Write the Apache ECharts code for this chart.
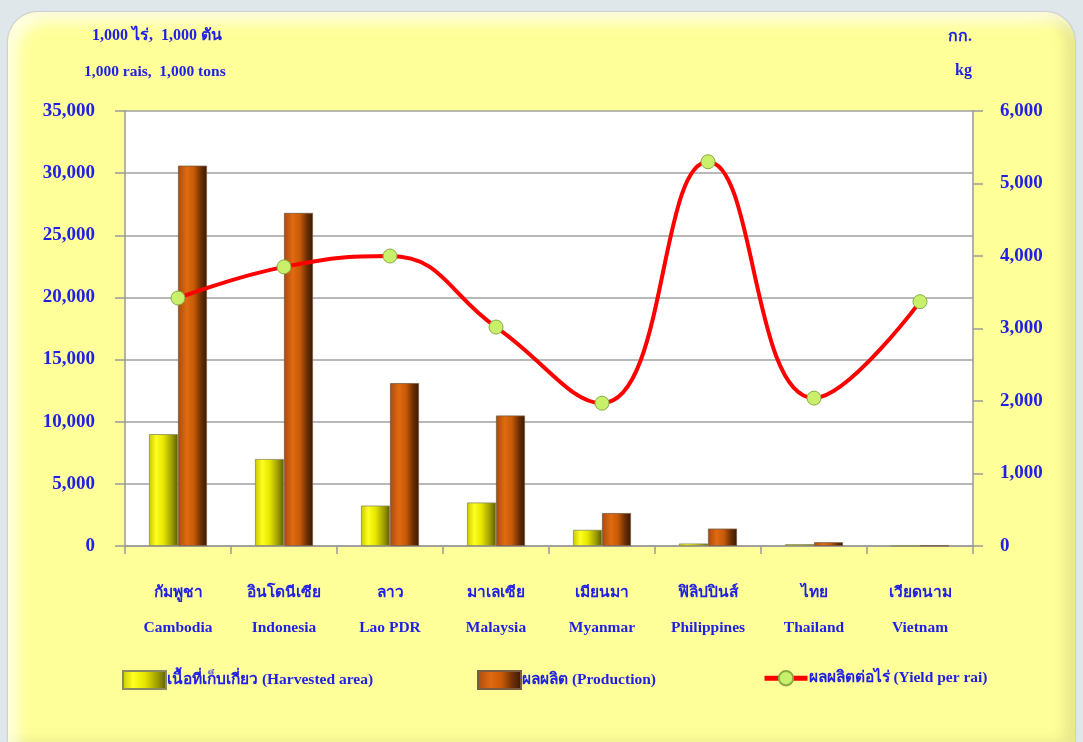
<!DOCTYPE html>
<html>
<head>
<meta charset="utf-8">
<script src="https://cdn.jsdelivr.net/npm/echarts@6/dist/echarts.min.js"></script>
<style>
html, body { margin: 0; padding: 0; background: #dfe7eb; }
.panel {
  position: absolute; left: 8px; top: 12px; width: 1067px; height: 730px;
  border-radius: 30px 30px 0 0;
  background: #ffff99;
  box-shadow: inset 10px 10px 14px rgba(255,255,255,0.7), inset -10px 0 14px rgba(200,200,120,0.45), 0 0 2px #999;
}
#main { position: absolute; left: 0; top: 0; width: 1083px; height: 742px; }
</style>
</head>
<body>
<div class="panel"></div>
<div id="main"></div>
<script>
const thaiNames = ['กัมพูชา', 'อินโดนีเซีย', 'ลาว', 'มาเลเซีย', 'เมียนมา', 'ฟิลิปปินส์', 'ไทย', 'เวียดนาม']
const engNames = ['Cambodia', 'Indonesia', 'Lao PDR', 'Malaysia', 'Myanmar', 'Philippines', 'Thailand', 'Vietnam']
const harvestedArea = [9000, 7000, 3250, 3500, 1300, 200, 150, 0]
const production = [30600, 26800, 13100, 10500, 2650, 1400, 300, 30]
const yieldPerRai = [3420, 3850, 4000, 3020, 1970, 5300, 2040, 3370]

const blue = '#1f1fe6'
const font = '"Liberation Serif", "Times New Roman", "DejaVu Serif", "Noto Sans", serif'

const yellowFill = new echarts.graphic.LinearGradient(0, 0, 1, 0, [
  { offset: 0, color: '#c8c800' },
  { offset: 0.25, color: '#ffff20' },
  { offset: 0.5, color: '#e6e600' },
  { offset: 0.8, color: '#9a9a00' },
  { offset: 1, color: '#5a5a00' }
])
const orangeFill = new echarts.graphic.LinearGradient(0, 0, 1, 0, [
  { offset: 0, color: '#a84a10' },
  { offset: 0.3, color: '#e06a10' },
  { offset: 0.55, color: '#c85a08' },
  { offset: 0.8, color: '#6a2e04' },
  { offset: 1, color: '#3a1800' }
])

const categories = thaiNames.map((t, i) => t + '\n' + engNames[i])

const legendText = { color: blue, fontWeight: 'bold', fontSize: 15.5, fontFamily: font, padding: [0, 0, 0, -4] }

var chartDom = document.getElementById('main')
var myChart = echarts.init(chartDom)
var option = {
  backgroundColor: 'transparent',
  textStyle: { fontFamily: font },
  graphic: [
    { type: 'text', left: 92, top: 28, style: { text: '1,000 ไร่,  1,000 ตัน', font: 'bold 16px ' + font, fill: blue } },
    { type: 'text', left: 84, top: 64, style: { text: '1,000 rais,  1,000 tons', font: 'bold 15.5px ' + font, fill: blue } },
    { type: 'text', right: 111, top: 29, style: { text: 'กก.', font: 'bold 16px ' + font, fill: blue, align: 'right' } },
    { type: 'text', right: 111, top: 63, style: { text: 'kg', font: 'bold 16px ' + font, fill: blue, align: 'right' } }
  ],
  grid: {
    left: 125, right: 110, top: 111, bottom: 196,
    show: true, backgroundColor: '#ffffff', borderWidth: 0
  },
  legend: [
    {
      data: [{ name: 'เนื้อที่เก็บเกี่ยว (Harvested area)', icon: 'rect' }], left: 117, top: 665,
      itemWidth: 43, itemHeight: 18, textStyle: legendText
    },
    {
      data: [{ name: 'ผลผลิต (Production)', icon: 'rect' }], left: 472, top: 665,
      itemWidth: 43, itemHeight: 18, textStyle: legendText
    },
    {
      data: ['ผลผลิตต่อไร่ (Yield per rai)'], left: 757, top: 665,
      itemWidth: 43, itemHeight: 18, textStyle: legendText,
      lineStyle: { width: 5 }
    }
  ],
  xAxis: {
    type: 'category',
    data: categories,
    axisLine: { lineStyle: { color: '#999999', width: 1.5 } },
    axisTick: { show: true, length: 8, lineStyle: { color: '#999999', width: 1.5 } },
    axisLabel: {
      margin: 29,
      color: blue,
      fontWeight: 'bold',
      fontSize: 15.5,
      lineHeight: 35,
      fontFamily: font,
      interval: 0
    }
  },
  yAxis: [
    {
      type: 'value', min: 0, max: 35000, interval: 5000,
      axisLine: { show: true, lineStyle: { color: '#999999', width: 1.5 } },
      axisTick: { show: true, length: 10, lineStyle: { color: '#999999', width: 1.5 } },
      splitLine: { lineStyle: { color: '#a0a0a0', width: 1.5 } },
      axisLabel: {
        margin: 30, color: blue, fontWeight: 'bold', fontSize: 19, fontFamily: font,
        formatter: v => v.toLocaleString('en-US')
      }
    },
    {
      type: 'value', min: 0, max: 6000, interval: 1000,
      axisLine: { show: true, lineStyle: { color: '#999999', width: 1.5 } },
      axisTick: { show: true, length: 10, lineStyle: { color: '#999999', width: 1.5 } },
      splitLine: { show: false },
      axisLabel: {
        margin: 27, color: blue, fontWeight: 'bold', fontSize: 19, fontFamily: font,
        formatter: v => v.toLocaleString('en-US')
      }
    }
  ],
  series: [
    {
      name: 'เนื้อที่เก็บเกี่ยว (Harvested area)',
      type: 'bar',
      data: harvestedArea,
      barWidth: 29,
      barGap: '0%',
      itemStyle: { color: yellowFill, borderColor: '#8a8a60', borderWidth: 0.8 }
    },
    {
      name: 'ผลผลิต (Production)',
      type: 'bar',
      data: production,
      barWidth: 29,
      barGap: '0%',
      itemStyle: { color: orangeFill, borderColor: '#7a5a40', borderWidth: 0.8 }
    },
    {
      name: 'ผลผลิตต่อไร่ (Yield per rai)',
      type: 'line',
      yAxisIndex: 1,
      data: yieldPerRai,
      smooth: 0.45,
      symbol: 'circle',
      symbolSize: 14,
      lineStyle: { color: '#ff0000', width: 4 },
      itemStyle: { color: '#c8f06a', borderColor: '#88aa44', borderWidth: 1 },
      z: 5
    }
  ]
}
option && myChart.setOption(option)
</script>
</body>
</html>
